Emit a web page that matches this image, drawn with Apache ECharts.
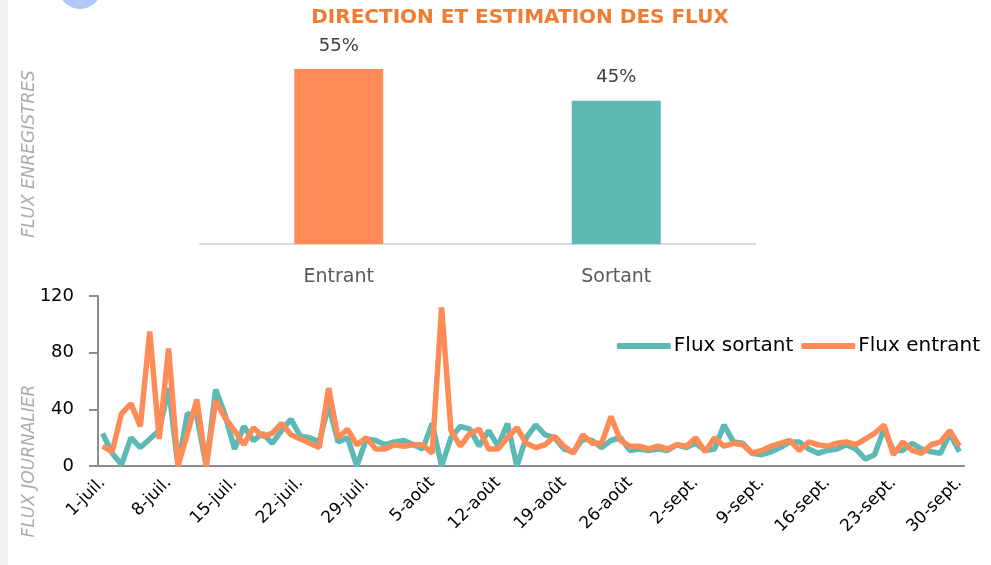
<!DOCTYPE html>
<html>
<head>
<meta charset="utf-8">
<script src="https://cdn.jsdelivr.net/npm/echarts@6/dist/echarts.min.js"></script>
<style>
  html, body { margin: 0; padding: 0; background: #fff; }
  #chart { width: 991px; height: 565px; }
</style>
</head>
<body>
<div id="chart"></div>
<script>
// répartition des flux (%)
const barCategories = ['Entrant', 'Sortant']
const barValues = [55, 45]

// mois affichés sur l'axe des dates
const months = [['juil.', 31], ['août', 31], ['sept.', 30]]
const days = []
months.forEach(m => {
  for (let d = 1; d <= m[1]; d++) days.push(d + '-' + m[0])
})

// flux journaliers, 1-juil. -> 30-sept.
const fluxEntrant = [
  14, 10, 37, 44, 28, 95, 19, 83, 0, 23, 47, 0, 46, 34, 25, 15, 27, 21, 23, 30, 22, 19, 16, 13,
  55, 20, 26, 15, 20, 12, 12, 15, 14, 15, 15, 9, 112, 25, 14, 23, 26, 12, 12, 20, 27, 16,
  13, 15, 21, 14, 9, 22, 16, 16, 35, 18, 14, 14, 12, 14, 12, 15, 14, 20, 10, 20, 14, 16, 15, 9,
  11, 14, 16, 18, 11, 17, 15, 14, 16, 17, 15, 19, 23, 29, 8, 17, 11, 9, 15, 17, 25, 14
]
const fluxSortant = [
  23, 9, 1, 20, 13, 19, 25, 55, 0, 37, 35, 0, 54, 36, 12, 28, 18, 23, 16, 25, 33, 21, 20, 17,
  43, 17, 20, 0, 19, 18, 15, 17, 18, 15, 12, 30, 0, 20, 28, 26, 14, 25, 14, 30, 0, 20,
  29, 22, 20, 12, 10, 19, 18, 13, 18, 20, 11, 12, 11, 12, 11, 15, 13, 16, 11, 12, 29, 17, 16, 9,
  8, 10, 13, 17, 17, 12, 9, 11, 12, 15, 12, 5, 8, 26, 11, 11, 16, 12, 10, 9, 23, 10
]

const yTicks = [0, 40, 80, 120]

const ORANGE = '#FF8C57'
const TEAL = '#5DB9B3'
const FONT = 'DejaVu Sans'

const chart = echarts.init(document.getElementById('chart'))

chart.setOption({
  animation: false,
  textStyle: { fontFamily: FONT },
  graphic: [
    { type: 'rect', shape: { x: 0, y: 0, width: 8, height: 565 }, style: { fill: '#F2F2F2' } },
    { type: 'circle', shape: { cx: 80, cy: -13, r: 22 }, style: { fill: '#AFC9FA' } },
    {
      type: 'text', x: 520, y: 18,
      style: {
        text: 'DIRECTION ET ESTIMATION DES FLUX', fill: '#EE7D31',
        font: 'bold 20px "' + FONT + '"', align: 'center', verticalAlign: 'middle'
      }
    },
    {
      type: 'text', x: 30, y: 154, rotation: Math.PI / 2,
      style: {
        text: 'FLUX ENREGISTRES', fill: '#ABABAB',
        font: 'italic 17px "' + FONT + '"', align: 'center', verticalAlign: 'middle'
      }
    },
    {
      type: 'text', x: 30, y: 461, rotation: Math.PI / 2,
      style: {
        text: 'FLUX JOURNALIER', fill: '#ABABAB',
        font: 'italic 17px "' + FONT + '"', align: 'center', verticalAlign: 'middle'
      }
    }
  ],
  legend: {
    data: ['Flux sortant', 'Flux entrant'],
    right: 6,
    top: 331,
    icon: 'roundRect',
    itemWidth: 54,
    itemHeight: 6,
    itemGap: 8,
    textStyle: { color: '#000', fontSize: 20, fontFamily: FONT, padding: [0, 0, 0, -2] }
  },
  grid: [
    { left: 200, width: 555, top: 53, height: 191 },
    { left: 98, right: 27, top: 296, height: 170 }
  ],
  xAxis: [
    {
      gridIndex: 0,
      type: 'category',
      data: barCategories,
      axisLine: { lineStyle: { color: '#D9D9D9', width: 2 } },
      axisTick: { show: false },
      axisLabel: { color: '#595959', fontSize: 19, margin: 24 }
    },
    {
      gridIndex: 1,
      type: 'category',
      data: days,
      boundaryGap: true,
      axisLine: { lineStyle: { color: '#8C8C8C', width: 2 } },
      axisTick: { interval: 6, length: 9, lineStyle: { color: '#8C8C8C', width: 2 } },
      axisLabel: { interval: 6, rotate: 45, color: '#000', fontSize: 17, margin: 14 }
    }
  ],
  yAxis: [
    {
      gridIndex: 0,
      type: 'value',
      min: 0,
      max: 60,
      show: false
    },
    {
      gridIndex: 1,
      type: 'value',
      min: yTicks[0],
      max: yTicks[yTicks.length - 1],
      interval: 40,
      splitLine: { show: false },
      axisLine: { show: true, lineStyle: { color: '#8C8C8C', width: 2 } },
      axisTick: { show: true, length: 9, lineStyle: { color: '#8C8C8C', width: 2 } },
      axisLabel: { color: '#000', fontSize: 18, margin: 24 }
    }
  ],
  series: [
    {
      type: 'bar',
      xAxisIndex: 0,
      yAxisIndex: 0,
      barWidth: 89,
      data: barValues.map((v, i) => ({
        value: v,
        itemStyle: { color: i === 0 ? ORANGE : TEAL }
      })),
      label: {
        show: true,
        position: 'top',
        distance: 14,
        formatter: '{c}%',
        color: '#404040',
        fontSize: 18
      }
    },
    {
      name: 'Flux sortant',
      type: 'line',
      xAxisIndex: 1,
      yAxisIndex: 1,
      data: fluxSortant,
      showSymbol: false,
      color: TEAL,
      lineStyle: { width: 5.5, color: TEAL }
    },
    {
      name: 'Flux entrant',
      type: 'line',
      xAxisIndex: 1,
      yAxisIndex: 1,
      data: fluxEntrant,
      showSymbol: false,
      color: ORANGE,
      lineStyle: { width: 5.5, color: ORANGE }
    }
  ]
})
</script>
</body>
</html>
